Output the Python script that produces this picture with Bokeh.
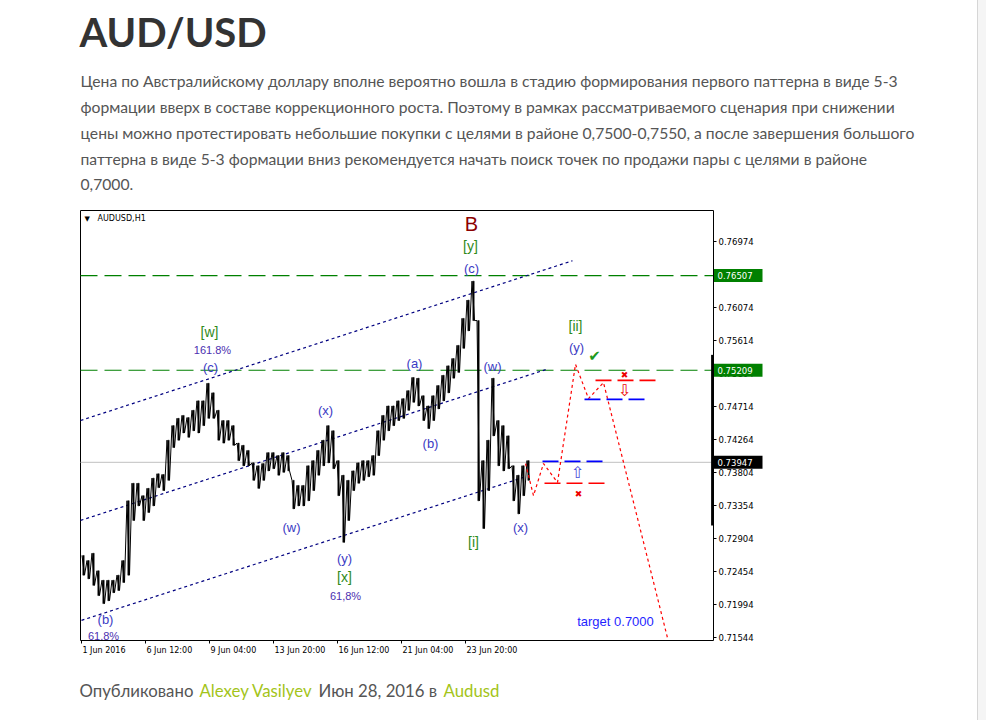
from bokeh.plotting import figure
from bokeh.models import Range1d, FixedTicker, Label, ColumnDataSource, PrintfTickFormatter, Div
from bokeh.layouts import row
from bokeh.core.properties import value
from bokeh.embed import file_html
from bokeh.resources import INLINE

# ---------------- data (H1 bars, grouped by 5 bars: high / low) ----------------
bar_idx = [0, 5, 10, 15, 20, 25, 30, 35, 40, 45, 50, 55, 60, 65, 70, 75, 80, 85, 90, 95,
           100, 105, 110, 115, 120, 125, 130, 135, 140, 145, 150, 155, 160, 165, 170, 175,
           180, 185, 190, 195, 200, 205, 210, 215, 220, 225, 230, 235, 240, 245, 250, 255,
           260, 265, 270, 275, 280, 285, 290, 295, 300, 305, 310, 315, 320, 325, 330, 335,
           340, 345, 350, 355, 360, 365, 370, 375, 380, 385, 390, 395, 400, 405, 410, 415,
           420, 425, 430, 435, 440, 445]
bar_high = [0.7267, 0.7260, 0.7270, 0.7246, 0.7233, 0.7233, 0.7233, 0.7240, 0.7260, 0.7342,
            0.7366, 0.7366, 0.7349, 0.7359, 0.7373, 0.7379, 0.7378, 0.7425, 0.7445, 0.7455,
            0.7459, 0.7456, 0.7466, 0.7479, 0.7479, 0.7503, 0.7490, 0.7466, 0.7452, 0.7452,
            0.7445, 0.7421, 0.7418, 0.7411, 0.7394, 0.7390, 0.7393, 0.7408, 0.7408, 0.7404,
            0.7408, 0.7404, 0.7370, 0.7363, 0.7363, 0.7390, 0.7397, 0.7411, 0.7425, 0.7445,
            0.7438, 0.7397, 0.7377, 0.7370, 0.7383, 0.7394, 0.7397, 0.7397, 0.7404, 0.7438,
            0.7459, 0.7472, 0.7472, 0.7479, 0.7482, 0.7493, 0.7511, 0.7510, 0.7486, 0.7472,
            0.7486, 0.7500, 0.7514, 0.7527, 0.7537, 0.7555, 0.7592, 0.7617, 0.7643, 0.7589,
            0.7397, 0.7425, 0.7510, 0.7452, 0.7445, 0.7431, 0.7390, 0.7377, 0.7390, 0.7397]
bar_low = [0.7240, 0.7235, 0.7226, 0.7212, 0.7201, 0.7205, 0.7216, 0.7219, 0.7230, 0.7240,
           0.7315, 0.7335, 0.7315, 0.7326, 0.7335, 0.7360, 0.7356, 0.7370, 0.7415, 0.7425,
           0.7435, 0.7429, 0.7438, 0.7435, 0.7445, 0.7455, 0.7455, 0.7425, 0.7421, 0.7425,
           0.7418, 0.7397, 0.7390, 0.7390, 0.7370, 0.7359, 0.7370, 0.7383, 0.7386, 0.7377,
           0.7381, 0.7383, 0.7331, 0.7335, 0.7335, 0.7342, 0.7356, 0.7377, 0.7390, 0.7394,
           0.7386, 0.7349, 0.7285, 0.7315, 0.7356, 0.7366, 0.7370, 0.7375, 0.7377, 0.7404,
           0.7425, 0.7438, 0.7445, 0.7452, 0.7455, 0.7466, 0.7477, 0.7472, 0.7452, 0.7441,
           0.7452, 0.7468, 0.7479, 0.7490, 0.7510, 0.7518, 0.7551, 0.7575, 0.7589, 0.7342,
           0.7304, 0.7356, 0.7431, 0.7390, 0.7383, 0.7386, 0.7342, 0.7324, 0.7349, 0.7370]

x_tick_bars = [0, 64, 128, 192, 256, 320, 384]
x_tick_labels = ["1 Jun 2016", "6 Jun 12:00", "9 Jun 04:00", "13 Jun 20:00",
                 "16 Jun 12:00", "21 Jun 04:00", "23 Jun 20:00"]
y_ticks = [0.76974, 0.76524, 0.76074, 0.75614, 0.75164, 0.74714, 0.74264,
           0.73804, 0.73354, 0.72904, 0.72454, 0.71994, 0.71544]
green_levels = [0.76507, 0.75209]
last_price = 0.73947

# channel lines (start bar, start price, end bar, end price)
chan_x0 = [-1, -1, 0]
chan_y0 = [0.7452, 0.7315, 0.7178]
chan_x1 = [491, 467, 442]
chan_y1 = [0.7671, 0.7523, 0.7374]

# forecast path
fc_x = [444, 452, 462, 476, 494, 507, 522, 586]
fc_y = [0.7393, 0.7349, 0.7393, 0.7367, 0.7529, 0.7482, 0.7504, 0.7154]

# short entry / stop levels
lvl_x0 = [461, 463, 514, 503]
lvl_x1 = [526, 529, 580, 569]
lvl_y = [0.7396, 0.7366, 0.7507, 0.7481]
lvl_color = ["#0000ff", "#ff0000", "#ff0000", "#0000ff"]

# wave labels
blue_text = ["(c)", "(c)", "(x)", "(a)", "(b)", "(w)", "(w)", "(y)", "(b)", "(x)", "(y)"]
blue_x = [390, 129, 244, 333, 349, 411, 210, 263, 24, 439, 495]
blue_y = [0.7660, 0.7525, 0.7466, 0.7530, 0.7420, 0.7526, 0.7305, 0.7263, 0.7179, 0.7305, 0.7552]
green_text = ["[y]", "[w]", "[x]", "[i]", "[ii]"]
green_x = [389, 128, 263, 392, 494]
green_y = [0.7691, 0.7573, 0.7237, 0.7286, 0.7581]
pct_text = ["161.8%", "61,8%", "61.8%"]
pct_x = [131, 264, 22]
pct_y = [0.7548, 0.7211, 0.7156]

sym_text = ["\u2714", "\u2716", "\u21e9", "\u21e7", "\u2716"]
sym_x = [513, 543, 543, 496, 497]
sym_y = [0.7541, 0.7514, 0.7493, 0.7381, 0.7351]
sym_color = ["#1e9a1e", "#ee0000", "#ee0000", "#4b4bd8", "#ee0000"]
sym_size = ["15px", "9px", "16px", "16px", "9px"]

title_text = "AUD/USD"
para_lines = [
    "Цена по Австралийскому доллару вполне вероятно вошла в стадию формирования первого паттерна в виде 5-3",
    "формации вверх в составе коррекционного роста. Поэтому в рамках рассматриваемого сценария при снижении",
    "цены можно протестировать небольшие покупки с целями в районе 0,7500-0,7550, а после завершения большого",
    "паттерна в виде 5-3 формации вниз рекомендуется начать поиск точек по продажи пары с целями в районе",
    "0,7000.",
]
footer_parts = ["Опубликовано", "Alexey Vasilyev", "Июн 28, 2016 в", "Audusd"]

# ---------------- geometry (1 px per H1 bar) ----------------
W, H = 977, 720
RB, BB = 45, 18                       # right / bottom borders
FRAME_W, FRAME_H = W - RB, H - BB
X_START = -81                          # bar index at the left edge of the page
CH_LEFT, CH_RIGHT = -1, 632            # chart box in bar units
CH_BOTTOM, CH_TOP = 0.71504, 0.77399   # chart box in price units
K = (CH_TOP - CH_BOTTOM) / 430.0       # price per pixel
Y_TOP = CH_TOP + 210 * K
Y_BOTTOM = Y_TOP - FRAME_H * K

p = figure(width=W, height=H, output_backend="svg", toolbar_location=None,
           x_range=Range1d(X_START, X_START + FRAME_W), y_range=Range1d(Y_BOTTOM, Y_TOP),
           y_axis_location="right", min_border_left=0, min_border_right=RB,
           min_border_top=0, min_border_bottom=BB)
p.grid.visible = False
p.outline_line_color = None
p.background_fill_color = "white"
p.border_fill_color = "white"

# x axis: labels left-aligned at their ticks (labels centred to the right of each tick)
AXF = "DejaVu Sans"
CW = {" ": .318, ":": .337, "J": .295, "u": .634, "n": .634}
def text_w(s, size):
    return sum(CW.get(c, .636) for c in s) * size
label_centers = [b + 1 + text_w(t, 8) / 2 for b, t in zip(x_tick_bars, x_tick_labels)]
p.xaxis.fixed_location = CH_BOTTOM
p.xaxis.bounds = (CH_LEFT, CH_RIGHT)
p.xaxis.ticker = FixedTicker(ticks=label_centers, minor_ticks=x_tick_bars)
p.xaxis.major_label_overrides = {c: t for c, t in zip(label_centers, x_tick_labels)}
p.xaxis.major_label_text_font = AXF
p.xaxis.major_label_text_font_size = "8px"
p.xaxis.major_label_text_color = "black"
p.xaxis.major_tick_line_color = None
p.xaxis.major_tick_out = 3
p.xaxis.major_tick_in = 0
p.xaxis.minor_tick_line_color = "black"
p.xaxis.minor_tick_out = 3
p.xaxis.minor_tick_in = 0
p.xaxis.major_label_standoff = 2
p.xaxis.axis_line_color = "black"

p.yaxis.fixed_location = CH_RIGHT
p.yaxis.bounds = (CH_BOTTOM, CH_TOP)
p.yaxis.ticker = FixedTicker(ticks=y_ticks)
p.yaxis.formatter = PrintfTickFormatter(format="%.5f")
p.yaxis.major_label_text_font = AXF
p.yaxis.major_label_text_font_size = "8.5px"
p.yaxis.major_label_text_color = "black"
p.yaxis.major_tick_out = 3
p.yaxis.major_tick_in = 0
p.yaxis.minor_tick_line_color = None
p.yaxis.major_label_standoff = 2
p.yaxis.axis_line_color = "black"

# chart box top and left edges
p.segment(x0=[CH_LEFT, CH_LEFT], y0=[CH_TOP, CH_BOTTOM], x1=[CH_RIGHT, CH_LEFT], y1=[CH_TOP, CH_TOP],
          line_color="black", line_width=1)

# horizontal levels
for lv in green_levels:
    p.segment(x0=CH_LEFT, x1=CH_RIGHT, y0=lv, y1=lv, line_color="#008000", line_width=1.2,
              line_dash="17 7")
p.segment(x0=CH_LEFT, x1=CH_RIGHT, y0=last_price, y1=last_price, line_color="#c0c0c0", line_width=1)

# channel
p.segment(x0=chan_x0, y0=chan_y0, x1=chan_x1, y1=chan_y1, line_color="#000080",
          line_width=1.2, line_dash="3 3")

# price bars
saw_x, saw_y = [], []
for b, h, l in zip(bar_idx, bar_high, bar_low):
    saw_x += [b + 0.5, b + 3]
    saw_y += [h, l]
p.vbar(x=[b + 2 for b in bar_idx], width=1.4, top=bar_high, bottom=bar_low,
       fill_color="black", line_color="black", line_width=0.5)
p.line(saw_x, saw_y, line_color="black", line_width=1.0)

# forecast
p.line(fc_x, fc_y, line_color="#ff0000", line_width=1.2, line_dash="3 3")
p.segment(x0=lvl_x0, x1=lvl_x1, y0=lvl_y, y1=lvl_y, line_color=lvl_color,
          line_width=1.6, line_dash="16 6")

# thick bar at right edge
p.quad(left=[CH_RIGHT - 2.4], right=[CH_RIGHT], bottom=[0.7308], top=[0.7542],
       fill_color="black", line_color=None)

WFONT = value("Liberation Sans")
p.text(blue_x, blue_y, text=blue_text, text_font=WFONT, text_font_size="13px",
       text_color="#3b3bc4", text_align="center", text_baseline="middle")
p.text(green_x, green_y, text=green_text, text_font=WFONT, text_font_size="14px",
       text_color="#2f8a1a", text_align="center", text_baseline="middle")
p.text(pct_x, pct_y, text=pct_text, text_font=WFONT, text_font_size="11px",
       text_color="#4b2fb0", text_align="center", text_baseline="middle")
p.text([390], [0.7721], text=["B"], text_font=WFONT, text_font_size="20px",
       text_color="#8b0000", text_align="center", text_baseline="middle")
p.text([534], [0.7176], text=["target 0.7000"], text_font=WFONT, text_font_size="13px",
       text_color="#1f1fff", text_align="center", text_baseline="middle")
sym_src = ColumnDataSource(dict(x=sym_x, y=sym_y, t=sym_text, c=sym_color, s=sym_size))
p.text(x="x", y="y", text="t", text_color="c", text_font_size="s", source=sym_src,
       text_font=value("DejaVu Sans"), text_align="center", text_baseline="middle")

# price boxes on the axis
box_levels = [green_levels[0], green_levels[1], last_price]
box_colors = ["#008000", "#008000", "black"]
box_src = ColumnDataSource(dict(y=box_levels, top=[v + 6.5 * K for v in box_levels],
                                bottom=[v - 6.5 * K for v in box_levels], c=box_colors,
                                t=["%.5f" % v for v in box_levels]))
p.quad(left=CH_RIGHT + 0.5, right=CH_RIGHT + 49, top="top", bottom="bottom", fill_color="c",
       line_color=None, source=box_src, level="overlay")
p.text(x=CH_RIGHT + 4, y="y", text="t", source=box_src, text_color="white",
       text_font=value(AXF), text_font_size="8.5px", text_baseline="middle", level="overlay")

def page_label(text, px, py, size, color, font="Lato", style="normal", baseline="alphabetic"):
    p.add_layout(Label(x=px, y=FRAME_H - py, x_units="screen", y_units="screen", text=text,
                       text_font=font, text_font_size=size, text_color=color,
                       text_font_style=style, text_baseline=baseline))

# chart header
page_label("\u25bc", 84, 218, "7px", "black", font="DejaVu Sans", baseline="middle")
page_label("AUDUSD,H1", 97, 218, "8px", "black", font=AXF, baseline="middle")

# page text (anchors corrected for the renderer's baseline offset)
page_label(title_text, 79, 31, "40px", "#333333", style="bold")
for i, line in enumerate(para_lines):
    page_label(line, 80, 80 + 26 * i, "15.7px", "#555555")
fx = [79, 199, 318, 443]
fc = ["#555555", "#a3c41a", "#555555", "#a3c41a"]
for t, x, c in zip(footer_parts, fx, fc):
    page_label(t, x, 690, "16.8px", c)

strip = Div(text='<div style="height:117px;border-bottom:1px solid #dddddd"></div>'
                 '<div style="height:50px;border-bottom:1px solid #dddddd"></div>',
            width=9, height=H, margin=0,
            styles={"background-color": "#f5f5f5", "border-left": "1px solid #d6d6d6",
                    "box-sizing": "border-box"})
layout = row(p, strip, spacing=0)

open("out.html", "w").write(file_html(layout, INLINE))
